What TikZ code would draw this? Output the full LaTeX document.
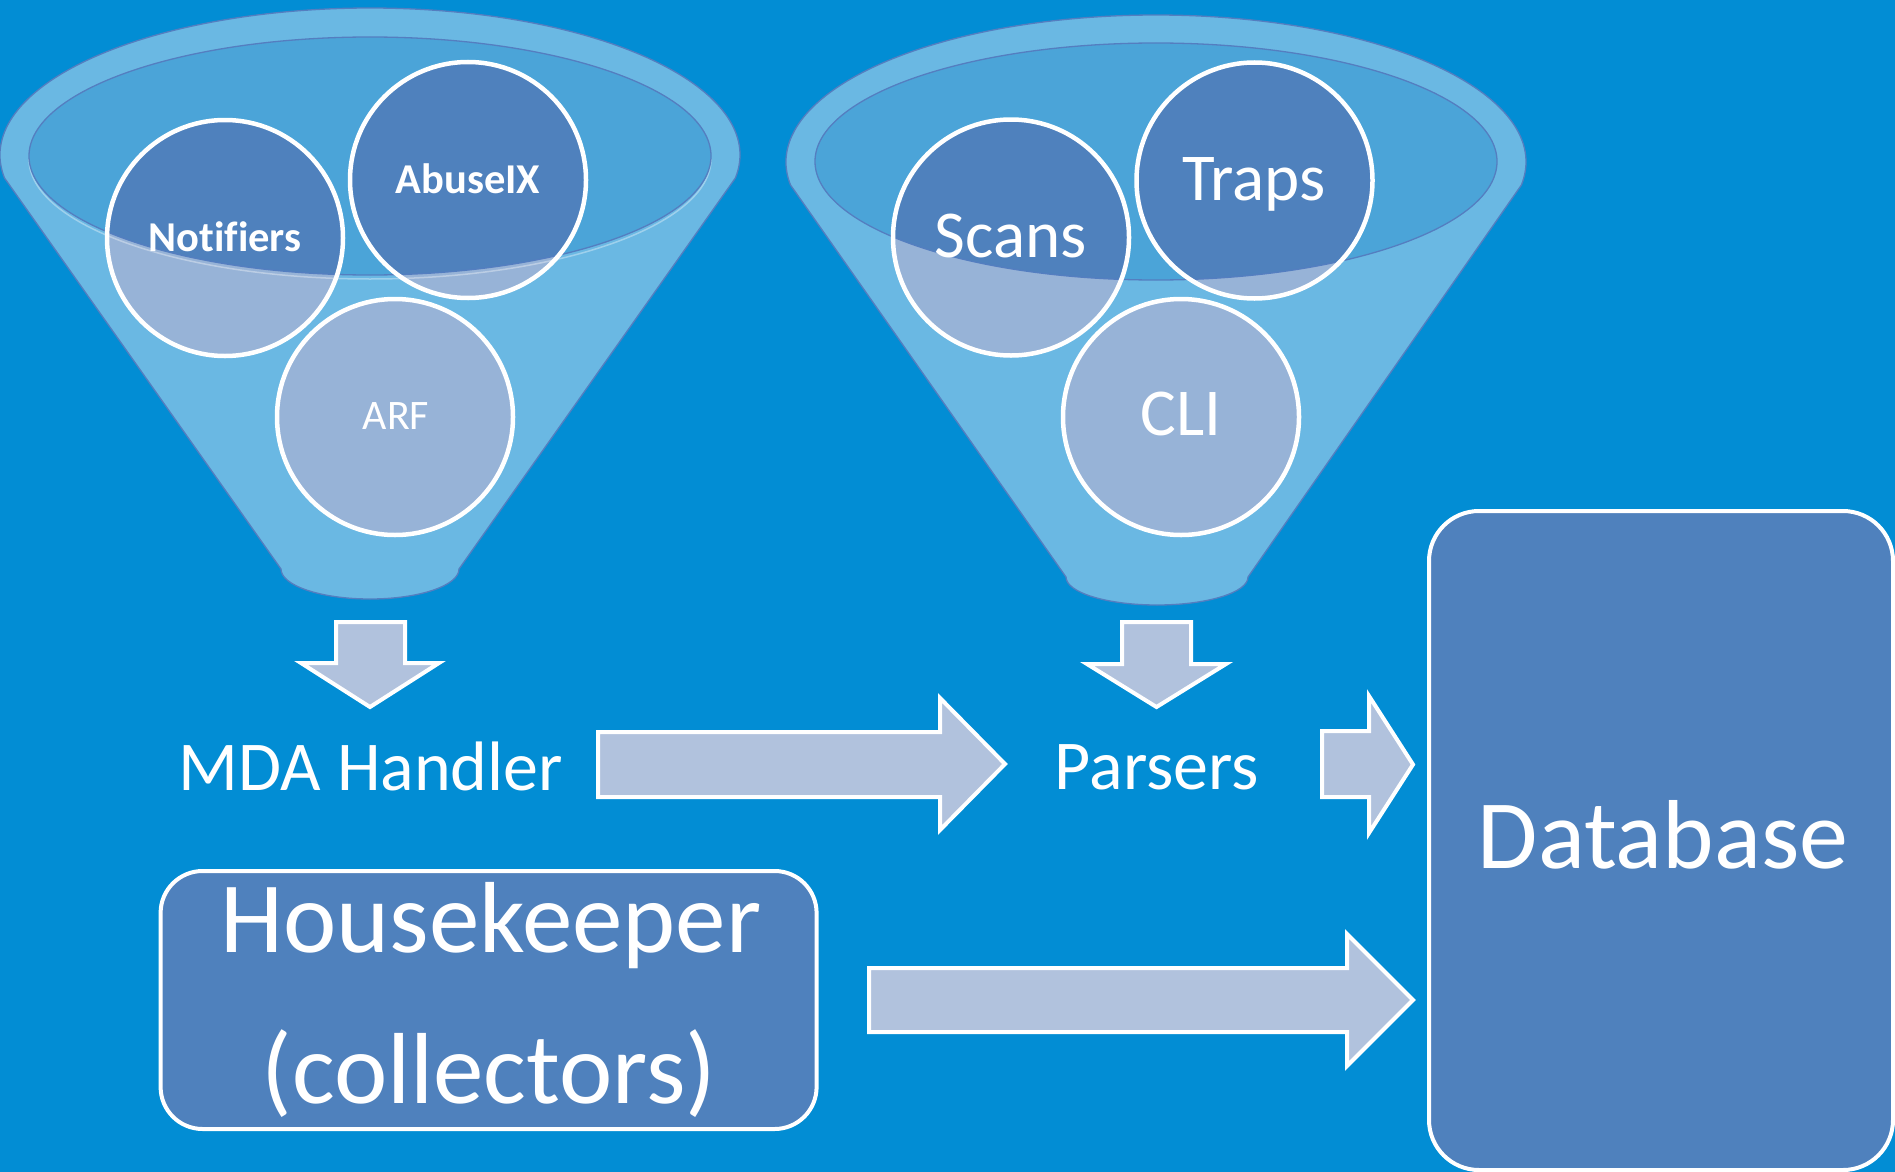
\documentclass[tikz,border=0pt]{standalone}
\usepackage{fontspec}
\setmainfont[Ligatures=NoCommon]{Carlito}
\definecolor{bg}{RGB}{2,141,212}
\definecolor{funnel}{RGB}{106,184,227}
\definecolor{rim}{RGB}{75,164,216}
\definecolor{edge}{RGB}{84,126,192}
\definecolor{darkc}{RGB}{79,129,189}
\definecolor{lightc}{RGB}{151,179,215}
\definecolor{arrowfill}{RGB}{177,194,221}
\begin{document}
\begin{tikzpicture}[x=1pt,y=-1pt,
  funnelbody/.style={fill=funnel, draw=edge, line width=1.3pt},
  rimfill/.style={fill=rim},
  rimline/.style={draw=edge, line width=1.3pt},
  bubble/.style={circle, minimum size=236pt, inner sep=0pt, fill=lightc},
  ring/.style={draw=white, line width=4.5pt},
  blockarrow/.style={fill=arrowfill, draw=white, line width=4pt, line join=miter},
  box/.style={rectangle, fill=darkc, draw=white, line width=4pt, inner sep=0pt},
  lbl/.style={text=white, anchor=base, inner sep=0pt},
  fsmallb/.style={font=\fontsize{42.5}{50}\selectfont\bfseries},
  fsmall/.style={font=\fontsize{42}{50}\selectfont},
  fmid/.style={font=\fontsize{67}{80}\selectfont},
  fmda/.style={font=\fontsize{70}{84}\selectfont},
  fbig/.style={font=\fontsize{101}{120}\selectfont},
  fdb/.style={font=\fontsize{98}{116}\selectfont}]
\useasboundingbox (0,0) rectangle (1895,1172);
\fill[bg] (0,0) rectangle (1895,1172);

% funnel 1
\path[funnelbody] (735.4,178) arc[start angle=9, end angle=-189, x radius=370, y radius=147]
  -- (281,569) arc[start angle=180, end angle=0, x radius=89, y radius=30] -- cycle;
\fill[rimfill] (370,156) ellipse (341 and 119);
% funnel 2
\path[funnelbody] (1521.4,185) arc[start angle=9, end angle=-189, x radius=370, y radius=147]
  -- (1066,577) arc[start angle=180, end angle=0, x radius=91, y radius=28] -- cycle;
\fill[rimfill] (1156,161.5) ellipse (341 and 118.5);

% bubbles
\node[bubble] (notif) at (225,238) {};
\node[bubble] (abuse) at (468,180) {};
\node[bubble] (arf) at (395,417) {};
\node[bubble] (scans) at (1011,237.5) {};
\node[bubble] (traps) at (1254.5,180.5) {};
\node[bubble] (cli) at (1181,417) {};

\begin{scope}
  \clip (370,156) ellipse (341 and 119);
  \fill[darkc] (notif.center) circle (118) (abuse.center) circle (118) (arf.center) circle (118);
\end{scope}
\begin{scope}
  \clip (1156,161.5) ellipse (341 and 118.5);
  \fill[darkc] (scans.center) circle (118) (traps.center) circle (118) (cli.center) circle (118);
\end{scope}

\draw[white, opacity=0.35, line width=1.5pt] (29,159) arc[start angle=180, end angle=0, x radius=341, y radius=120];
\draw[rimline] (370,156) ellipse (341 and 119);
\draw[rimline] (1156,161.5) ellipse (341 and 118.5);

\foreach \n in {notif,abuse,arf,scans,traps,cli}
  \draw[ring] (\n.center) circle (118);

\node[lbl, fsmallb] (tnotif) at (225,251) {Notifiers};
\node[lbl, fsmallb] (tabuse) at (468,193) {AbuseIX};
\node[lbl, fsmall] (tarf) at (396,429) {ARF};
\node[lbl, fmid] (tscans) at (1011,257) {Scans};
\node[lbl, fmid] (ttraps) at (1254,200) {Traps};
\node[lbl, fmid] (tcli) at (1181,435) {CLI};

% down arrows
\draw[blockarrow] (336,622) -- (405,622) -- (405,663) -- (439,663) -- (370,707) -- (301,663) -- (336,663) -- cycle;
\draw[blockarrow] (1122,622) -- (1191,622) -- (1191,664) -- (1226,664) -- (1156.5,707) -- (1087,664) -- (1122,664) -- cycle;

% labels
\node[lbl, fmda] (mda) at (371,790) {MDA Handler};
\node[lbl, fmda] (parsers) at (1157,789) {Parsers};

% boxes
\node[box, rounded corners=42pt, minimum width=656pt, minimum height=258pt] (house) at (488.6,1000) {};
\node[lbl, fbig] (thouse1) at (491,952) {Housekeeper};
\node[lbl, fbig] (thouse2) at (489,1103) {(collectors)};
\node[box, rounded corners=50pt, minimum width=464pt, minimum height=659pt] (db) at (1661,840.5) {};
\node[lbl, fdb] (tdb) at (1663,868) {Database};

% right arrows
\draw[blockarrow] (598,732) -- (940,732) -- (940,698) -- (1005,764) -- (940,830) -- (940,797) -- (598,797) -- cycle;
\draw[blockarrow] (1322,731) -- (1369,731) -- (1369,696) -- (1413,764.5) -- (1369,833) -- (1369,797) -- (1322,797) -- cycle;
\draw[blockarrow] (869,968) -- (1347,968) -- (1347,934) -- (1413,1000) -- (1347,1066) -- (1347,1032) -- (869,1032) -- cycle;
\end{tikzpicture}
\end{document}
